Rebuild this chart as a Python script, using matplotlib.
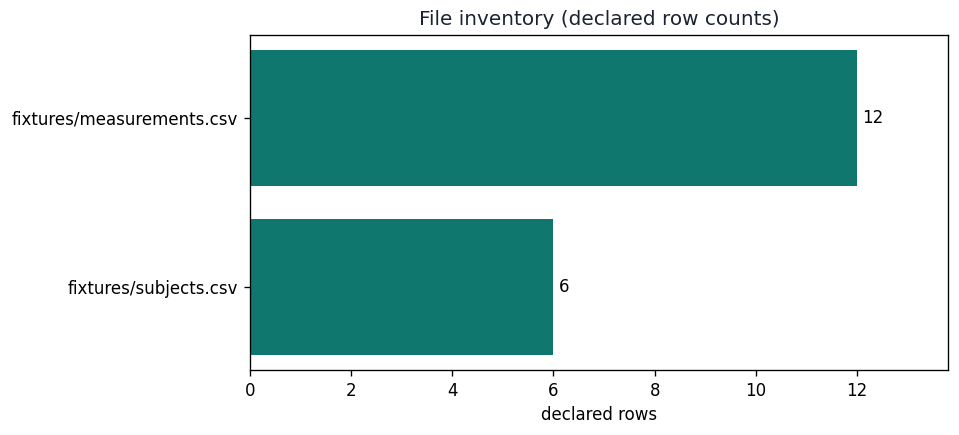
import matplotlib
matplotlib.use("Agg")
import matplotlib.pyplot as plt

files = ["fixtures/subjects.csv", "fixtures/measurements.csv"]
declared_rows = [6, 12]

fig = plt.figure(figsize=(959 / 120, 435 / 120), dpi=120)
ax = fig.add_axes([0.2607, 0.1494, 0.7278, 0.7701])
bars = ax.barh(files, declared_rows, color="#10776f", height=0.8)
ax.set_xlim(0, max(declared_rows) * 1.15)
ax.set_xlabel("declared rows")
ax.set_title("File inventory (declared row counts)", color="#1b2233")

for bar, val in zip(bars, declared_rows):
    ax.text(val + 0.1, bar.get_y() + bar.get_height() / 2, str(val),
            va="center", ha="left", fontsize=10)

fig.savefig("out.png", dpi=120)
